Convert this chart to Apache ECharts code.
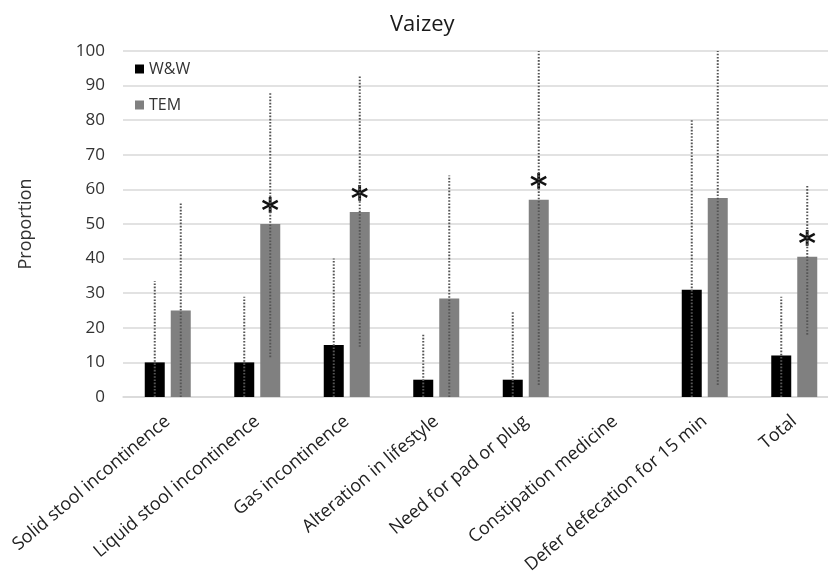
<!DOCTYPE html>
<html><head><meta charset="utf-8">
<script src="https://cdn.jsdelivr.net/npm/echarts@6/dist/echarts.min.js"></script>
<style>html,body{margin:0;padding:0;background:#fff;overflow:hidden}#c{width:828px;height:578px}</style>
</head><body><div id="c"></div>
<script>
var categories = ['Solid stool incontinence','Liquid stool incontinence','Gas incontinence','Alteration in lifestyle','Need for pad or plug','Constipation medicine','Defer defecation for 15 min','Total'];
var wwValues = [10, 10, 15, 5, 5, null, 31, 12];
var temValues = [25, 50, 53.5, 28.5, 57, null, 57.5, 40.5];
var wwLow = [0, 0, 0, 0, 0, null, 0, 0];
var wwHigh = [33.5, 29, 40, 18, 25, null, 80, 29];
var temLow = [0, 11.5, 14.5, 0, 3.5, null, 3.5, 18];
var temHigh = [56, 88, 93, 64, 100, null, 100, 61];
var significant = [false, true, true, false, true, false, false, true];
var yTicks = [0, 10, 20, 30, 40, 50, 60, 70, 80, 90, 100];

var FONT = 'Open Sans';
var chart = echarts.init(document.getElementById('c'), null, {renderer:'canvas'});

function errItems(low, high) {
  return categories.map(function(c, i){ return [i, low[i], high[i]]; });
}
function errRender(offset) {
  return function(params, api) {
    var lo = api.value(1), hi = api.value(2);
    if (lo == null || hi == null || isNaN(lo) || isNaN(hi)) return;
    var p1 = api.coord([api.value(0), lo]);
    var p2 = api.coord([api.value(0), hi]);
    var x = p1[0] + offset;
    return {
      type: 'line',
      shape: {x1: x, y1: p1[1], x2: x, y2: p2[1]},
      style: {stroke: '#555', lineWidth: 2, lineDash: [1.6, 1.6]}
    };
  };
}

chart.setOption({
  animation: false,
  backgroundColor: '#fff',
  title: {
    text: 'Vaizey', left: 385, top: 9,
    textStyle: {fontFamily: FONT, fontSize: 22, fontWeight: 'normal', color: '#1a1a1a'}
  },
  legend: {
    orient: 'vertical', left: 130, top: 56,
    itemWidth: 9, itemHeight: 9, itemGap: 20,
    icon: 'rect',
    textStyle: {fontFamily: FONT, fontSize: 16, color: '#333'},
    data: ['W&W', 'TEM']
  },
  grid: {left: 123, width: 716, top: 51, height: 346, outerBoundsMode: 'none', containLabel: false},
  xAxis: {
    type: 'category', data: categories,
    axisLine: {lineStyle: {color: '#d9d9d9', width: 1.5}},
    axisTick: {show: false},
    axisLabel: {rotate: 40, interval: 0, margin: 22, fontFamily: FONT, fontSize: 18, color: '#222'}
  },
  yAxis: {
    type: 'value', min: 0, max: 100, interval: 10,
    name: 'Proportion', nameLocation: 'middle', nameRotate: 90, nameGap: 88,
    nameTextStyle: {fontFamily: FONT, fontSize: 18, color: '#333'},
    axisLine: {show: false}, axisTick: {show: false},
    axisLabel: {margin: 18, fontFamily: FONT, fontSize: 17, color: '#333'},
    splitLine: {lineStyle: {color: '#d9d9d9', width: 1.5}}
  },
  series: [
    {name: 'W&W', type: 'bar', data: wwValues, barWidth: 20, barGap: '30%',
     itemStyle: {color: '#000'}},
    {name: 'TEM', type: 'bar', data: temValues, barWidth: 20,
     itemStyle: {color: '#808080'},
     label: {show: true, position: 'top', distance: -6,
       formatter: function(p){ return significant[p.dataIndex] ? '*' : ''; },
       fontFamily: 'DejaVu Sans', fontWeight: 'bold', fontSize: 34, color: '#111'}},
    {type: 'custom', renderItem: errRender(-13), data: errItems(wwLow, wwHigh), z: 5, silent: true},
    {type: 'custom', renderItem: errRender(13), data: errItems(temLow, temHigh), z: 5, silent: true}
  ]
});
</script></body></html>
